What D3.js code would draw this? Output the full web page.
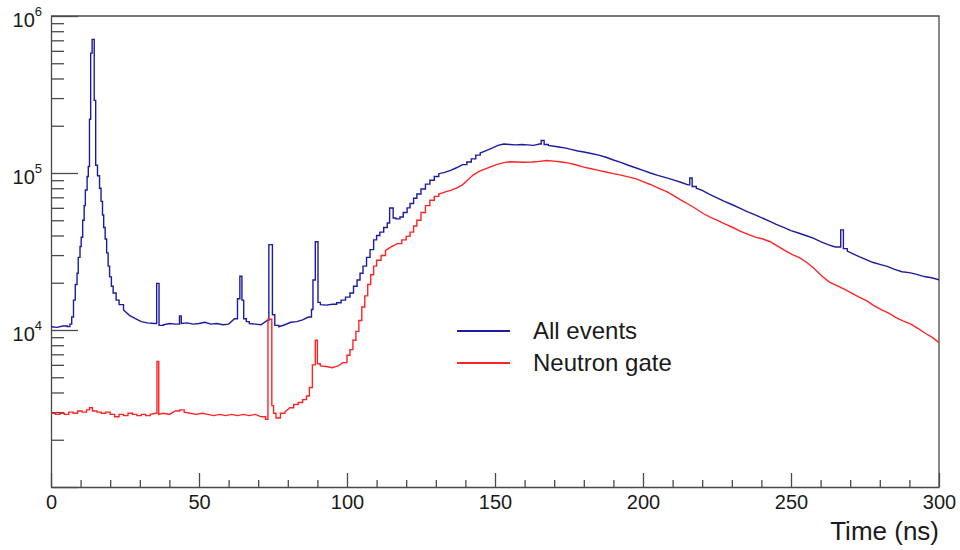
<!DOCTYPE html>
<html>
<head>
<meta charset="utf-8">
<script src="https://cdn.jsdelivr.net/npm/d3@7"></script>
<style>
  body { margin: 0; background: #fff; }
  svg { display: block; font-family: "Liberation Sans", Arial, sans-serif; }
</style>
</head>
<body>
<div id="chart"></div>
<script>
// --- DATA (counts per bin) ---

const timeAll = [0, 2, 4, 5.5, 6.4, 7.0, 7.6, 8.2, 8.8, 9.2, 9.8, 10.2, 10.7, 11.2, 11.6, 12.2, 12.6, 13.0, 13.4, 13.9,
  14.6, 15.1, 15.7, 16.4, 16.9, 17.4, 17.8, 18.3, 18.8, 19.3, 19.8, 20.4, 21.0, 22.0, 23.0, 24.5, 26.5, 28.5, 30.5, 32.5,
  35.0, 35.7, 36.5, 38, 40, 42, 43.4, 44.0, 46, 48, 50, 52, 54, 56, 58, 60, 62.0, 63.0, 63.8, 64.5,
  65.1, 66, 67, 69, 71, 73.0, 73.6, 74.8, 75.6, 77, 79, 81, 83, 85, 87, 88.0, 88.5, 89.3, 90.2, 91,
  93, 95, 96.5, 98, 99.5, 101, 102.2, 103.4, 104.4, 105.4, 106.6, 107.8, 109, 110, 111.1, 112.4, 113.6, 114.4, 115.6, 116.5,
  117.9, 119, 120.3, 121.3, 122.5, 123.6, 125, 126.5, 128, 129.5, 131, 133, 135, 137, 139, 140.5, 142, 143.5, 145, 147,
  149, 151, 153, 155, 157, 159, 161, 163, 165, 165.6, 166.6, 168, 170, 172, 174, 176, 178, 180, 182.5, 185,
  187.5, 190, 192.5, 195, 197.5, 200, 202.5, 205, 208, 210.5, 213, 215.2, 215.8, 216.6, 218, 220, 222.5, 225, 227.5, 230,
  232.5, 235, 237.5, 240, 242.5, 245, 247.5, 250, 252.5, 255, 257.5, 260, 262.5, 265, 266.8, 267.7, 269, 271, 273, 275,
  277.5, 280, 282.5, 285, 287.5, 290, 292.5, 295, 297.5, 300];
const countsAll = [10500, 10400, 10600, 10500, 10900, 12100, 15500, 19500, 23000, 29000, 34000, 39000, 50000, 62000, 78000, 95000, 110000, 220000, 580000, 710000,
  290000, 112000, 96000, 80000, 66000, 54000, 45000, 38000, 31000, 25500, 21800, 19000, 17200, 15500, 14500, 13400, 12400, 11800, 11300, 11100,
  11000, 19800, 10700, 10800, 11000, 10900, 12300, 11000, 11100, 10900, 11000, 11200, 10900, 11000, 10800, 10900, 11800, 15800, 22000, 15500,
  11800, 11300, 11000, 10900, 10800, 11500, 35000, 12500, 10700, 10500, 10800, 11200, 11300, 11600, 12100, 13500, 20800, 36500, 15000, 14500,
  14400, 14600, 14900, 15500, 16200, 17200, 19000, 20800, 23000, 25500, 29000, 32500, 37500, 40000, 42000, 45000, 48000, 59800, 51700, 51000,
  52500, 56000, 60000, 64000, 69000, 73500, 79000, 85000, 90000, 95000, 99000, 101000, 104000, 108000, 113000, 117500, 123000, 130000, 134000, 139000,
  144000, 150000, 153000, 152000, 151000, 152000, 151000, 150000, 153000, 161000, 152000, 150000, 148000, 146000, 144000, 141000, 138000, 136000, 133000, 130000,
  126000, 121000, 117000, 112000, 108000, 104000, 100000, 96500, 93000, 90000, 87000, 84000, 93000, 82000, 80000, 77500, 73000, 69500, 66000, 63000,
  60000, 57000, 54500, 52000, 49500, 47000, 45000, 43000, 41500, 40000, 38500, 36500, 35000, 33800, 43400, 33000, 31800, 30500, 29300, 28300,
  27000, 26200, 25400, 24300, 23500, 23200, 22600, 21900, 21500, 20900];

const timeGate = [0, 1.5, 3, 4.5, 6, 7.5, 9, 10.5, 12, 13, 14, 15.5, 17, 18.5, 20, 21.5, 23, 24.5, 26, 27.5,
  29, 30.5, 32, 33.5, 35.5, 35.8, 36.4, 38, 40, 42, 43.5, 45, 47, 49, 51, 53, 55, 57, 59, 61,
  63, 65, 67, 69, 71, 72.5, 73.3, 74.6, 75.2, 76, 77.5, 79, 80.7, 82, 83.5, 85, 86.3, 87.3, 88.3, 89.3,
  90.0, 91, 93, 95, 97, 98.6, 100, 101, 102, 103, 104, 105, 106, 107, 108, 109, 110, 111.5, 113, 115,
  117, 118.5, 120, 121.3, 122.5, 123.6, 125, 126.5, 128, 129.5, 131, 133, 135, 137, 139, 141, 142.6, 144.5, 146.5, 148.5,
  150.5, 153, 155, 157.5, 160, 162.5, 165, 167.5, 170, 172.5, 175, 177.5, 180, 182.5, 185, 187.5, 190, 192.5, 195, 197.5,
  200, 202.5, 205, 208, 210.5, 213, 215.5, 218, 220.5, 223, 225.5, 228, 230.5, 233, 235.5, 238, 240.5, 243, 245.5, 248,
  250.5, 253, 255.5, 258, 260.5, 263, 265.5, 268, 270.5, 273, 275.5, 278, 280.5, 283, 285.5, 288, 290.5, 293, 295.5, 298, 300];
const countsGate = [2950, 2900, 2950, 2900, 3000, 2950, 3050, 3000, 3100, 3200, 3050, 3000, 2950, 3000, 2900, 2800, 2900, 2850, 2950, 2900,
  2850, 2900, 2850, 2900, 2950, 6300, 2900, 2950, 2900, 3050, 3100, 3000, 2950, 2900, 2950, 2900, 2850, 2900, 2850, 2900,
  2850, 2900, 2850, 2900, 2800, 2700, 11700, 3300, 2950, 2750, 2950, 3000, 3200, 3350, 3450, 3600, 3800, 4300, 6000, 8600,
  6100, 5900, 5850, 5750, 5900, 6200, 6900, 7500, 8600, 9800, 11500, 14000, 16500, 19500, 22500, 25500, 27800, 29800, 32000, 34000,
  35500, 37500, 39500, 42000, 46000, 50000, 56000, 62000, 67000, 71000, 73500, 75500, 77500, 80000, 84000, 91000, 97000, 102000, 106000, 109500,
  113000, 116500, 118000, 117500, 117000, 117500, 118500, 120000, 119000, 117500, 115500, 112500, 109000, 106500, 104000, 101500, 99000, 97000, 94500, 92000,
  88000, 84500, 80500, 76000, 71500, 67000, 63000, 59000, 55000, 52000, 49500, 47000, 44800, 42500, 40600, 39000, 38000, 36500, 34200, 32000,
  30200, 28800, 26800, 24500, 22000, 20200, 19200, 18200, 17200, 16200, 15400, 14300, 13500, 12800, 12000, 11400, 10900, 10200, 9500, 8900, 8300];

const seriesNames = ["All events", "Neutron gate"];
const seriesColors = ["#1c1ca0", "#ff2424"];

const xMajorTicks = [0, 50, 100, 150, 200, 250, 300];
const yMajorTicks = [1e3, 1e4, 1e5, 1e6];
const yLabelExponents = [4, 5, 6];
const xTitle = "Time (ns)";

// --- LAYOUT ---

const width = 960;
const height = 550;
const plotLeft = 51, plotRight = 939, plotTop = 16, plotBottom = 487;

const x = d3.scaleLinear().domain([0, 300]).range([plotLeft, plotRight]);
const y = d3.scaleLog().domain([1e3, 1e6]).range([plotBottom, plotTop]);

const svg = d3.select("#chart").append("svg")
  .attr("width", width)
  .attr("height", height);

svg.append("clipPath").attr("id", "plot-clip")
  .append("rect")
  .attr("x", plotLeft).attr("y", plotTop)
  .attr("width", plotRight - plotLeft).attr("height", plotBottom - plotTop);

// minor tick values
const xMinorTicks = d3.range(0, 301, 10).filter(v => v % 50 !== 0);
const yMinorTicks = [];
[1e3, 1e4, 1e5].forEach(d => { for (let k = 2; k <= 9; k++) yMinorTicks.push(d * k); });

// --- AXES ---

const axisColor = "#4a4a4a";

svg.append("g")
  .attr("transform", `translate(0,${plotBottom})`)
  .call(d3.axisBottom(x).tickValues(xMinorTicks).tickSizeInner(-7).tickSizeOuter(0).tickFormat(""))
  .call(g => g.select(".domain").remove());

const xAxis = svg.append("g")
  .attr("transform", `translate(0,${plotBottom})`)
  .call(d3.axisBottom(x).tickValues(xMajorTicks).tickSizeInner(-14).tickSizeOuter(0).tickPadding(8));
xAxis.selectAll("text").attr("font-size", 20).attr("fill", "#1a1a1a");

svg.append("g")
  .attr("transform", `translate(${plotLeft},0)`)
  .call(d3.axisLeft(y).tickValues(yMinorTicks).tickSizeInner(-13).tickSizeOuter(0).tickFormat(""))
  .call(g => g.select(".domain").remove());

svg.append("g")
  .attr("transform", `translate(${plotLeft},0)`)
  .call(d3.axisLeft(y).tickValues(yMajorTicks).tickSizeInner(-27).tickSizeOuter(0).tickFormat(""));

svg.selectAll(".tick line, .domain").attr("stroke", axisColor).attr("stroke-width", 1.3);

// y labels as 10^n with a superscript
yLabelExponents.forEach(n => {
  const t = svg.append("text")
    .attr("x", 42)
    .attr("y", y(Math.pow(10, n)) + 11)
    .attr("text-anchor", "end")
    .attr("fill", "#1a1a1a")
    .attr("font-size", 20);
  t.append("tspan").text("10");
  t.append("tspan").attr("font-size", 13).attr("dy", -11).text(n);
});

// frame on top and right
svg.append("path")
  .attr("d", `M${plotLeft},${plotTop}H${plotRight}V${plotBottom}`)
  .attr("fill", "none")
  .attr("stroke", axisColor)
  .attr("stroke-width", 1.3);

svg.append("text")
  .attr("x", plotRight)
  .attr("y", 540)
  .attr("text-anchor", "end")
  .attr("font-size", 26)
  .attr("fill", "#1a1a1a")
  .text(xTitle);

// --- HISTOGRAM LINES ---

// steps where the read points are close together or jump sharply (peaks),
// straight segments across wider, gentle gaps so the slow parts look smooth
function histCurve(context) {
  let x0, y0, started;
  return {
    lineStart() { started = false; },
    lineEnd() {},
    areaStart() {},
    areaEnd() {},
    point(px, py) {
      const dx = px - x0;
      if (!started) { context.moveTo(px, py); started = true; }
      else if (dx <= 4.6 || Math.abs(py - y0) > 1.5 * dx) { context.lineTo(px, y0); context.lineTo(px, py); }
      else { context.lineTo(px, py); }
      x0 = px; y0 = py;
    }
  };
}

const line = d3.line()
  .x(d => x(d[0]))
  .y(d => y(d[1]))
  .curve(histCurve);

const plot = svg.append("g").attr("clip-path", "url(#plot-clip)");

[[timeAll, countsAll], [timeGate, countsGate]].forEach(([ts, cs], i) => {
  plot.append("path")
    .datum(ts.map((t, j) => [t, cs[j]]))
    .attr("fill", "none")
    .attr("stroke", seriesColors[i])
    .attr("stroke-width", 1.4)
    .attr("d", line);
});

// --- LEGEND ---

const legend = svg.append("g");
seriesNames.forEach((name, i) => {
  const ly = 331 + i * 32;
  legend.append("line")
    .attr("x1", 457).attr("x2", 510)
    .attr("y1", ly).attr("y2", ly)
    .attr("stroke", seriesColors[i])
    .attr("stroke-width", 2.2);
  legend.append("text")
    .attr("x", 533)
    .attr("y", ly + 8)
    .attr("font-size", 24)
    .attr("fill", "#1a1a1a")
    .text(name);
});
</script>
</body>
</html>
